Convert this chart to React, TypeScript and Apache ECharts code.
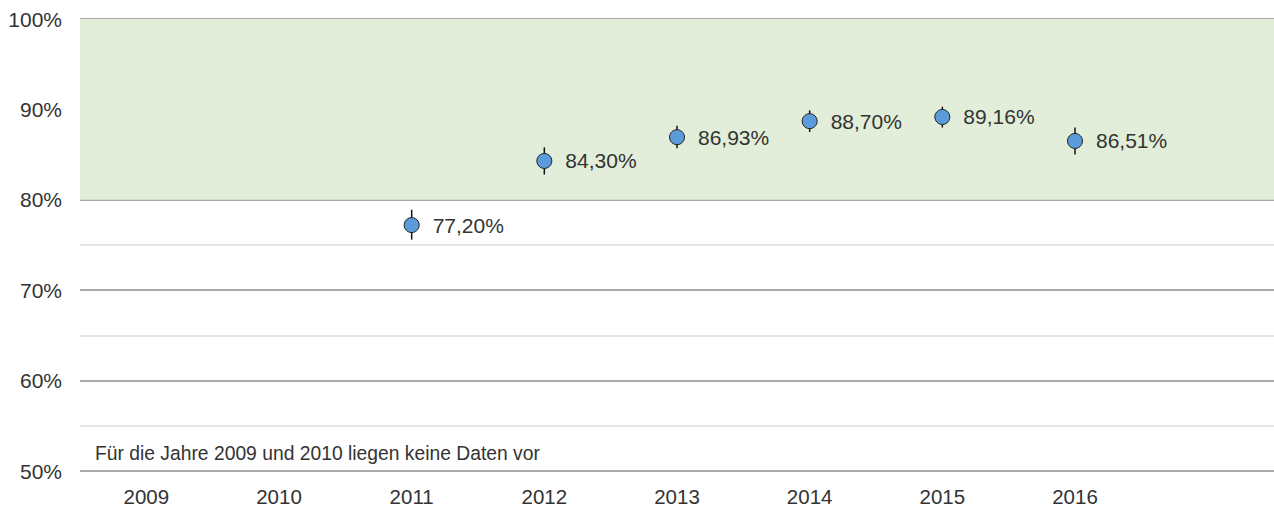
import React, { useEffect, useRef } from "react";
import * as echarts from "echarts";

const categories = ["2009", "2010", "2011", "2012", "2013", "2014", "2015", "2016", ""];
const values: (number | null)[] = [null, null, 77.2, 84.3, 86.93, 88.7, 89.16, 86.51, null];
const lowValues: (number | null)[] = [null, null, 75.6, 82.8, 85.7, 87.5, 88.0, 85.0, null];
const highValues: (number | null)[] = [null, null, 78.9, 85.8, 88.2, 89.9, 90.3, 88.0, null];
const bandRange = [80, 100];
const yMin = 50;
const yMax = 100;
const noteText = "Für die Jahre 2009 und 2010 liegen keine Daten vor";

const FONT = "'Liberation Sans', Arial, sans-serif";

export default function App() {
  const ref = useRef<HTMLDivElement>(null);
  useEffect(() => {
    if (!ref.current) return;
    const chart = echarts.init(ref.current, undefined, { renderer: "svg" });
    const errData = values
      .map((v, i) => (v == null ? null : [i, lowValues[i], highValues[i]]))
      .filter((d) => d != null);
    chart.setOption({
      animation: false,
      textStyle: { fontFamily: FONT },
      grid: { left: 80, right: 0, top: 19, bottom: 40 },
      xAxis: {
        type: "category",
        data: categories,
        boundaryGap: true,
        axisLine: { show: false },
        axisTick: { show: false },
        axisLabel: { color: "#333", fontSize: 20.5, margin: 15, fontFamily: FONT },
        splitLine: { show: false },
      },
      yAxis: {
        type: "value",
        min: yMin,
        max: yMax,
        interval: 10,
        axisLine: { show: false },
        axisTick: { show: false },
        axisLabel: {
          color: "#333",
          fontSize: 21,
          margin: 18,
          fontFamily: FONT,
          formatter: (v: number) => v + "%",
        },
        splitLine: { show: true, lineStyle: { color: "#8e8e8e", width: 1.5 } },
        minorTick: { show: false, splitNumber: 2 },
        minorSplitLine: { show: true, lineStyle: { color: "#dcdcdc", width: 1.5 } },
      },
      graphic: [
        {
          type: "text",
          left: 95,
          top: 444,
          style: { text: noteText, fill: "#333", fontSize: 19.3, fontFamily: FONT },
        },
      ],
      series: [
        {
          type: "custom",
          z: 3,
          renderItem: (params: any, api: any) => {
            const x = api.value(0);
            const p1 = api.coord([x, api.value(1)]);
            const p2 = api.coord([x, api.value(2)]);
            return {
              type: "line",
              shape: { x1: p1[0], y1: p1[1], x2: p2[0], y2: p2[1] },
              style: { stroke: "#111", lineWidth: 1.5 },
            };
          },
          data: errData,
          encode: { x: 0, y: [1, 2] },
          markArea: {
            silent: true,
            itemStyle: { color: "#e2eed9" },
            data: [[{ yAxis: bandRange[0] }, { yAxis: bandRange[1] }]],
          },
        },
        {
          type: "scatter",
          z: 5,
          data: values.map((v) => (v == null ? "-" : v)),
          symbol: "circle",
          symbolSize: 15,
          itemStyle: { color: "#5b9bd9", borderColor: "#222", borderWidth: 1, opacity: 1 },
          label: {
            show: true,
            position: "right",
            distance: 13,
            color: "#333",
            fontSize: 21,
            fontFamily: FONT,
            formatter: (p: any) => p.value.toFixed(2).replace(".", ",") + "%",
          },
        },
      ],
    });
    return () => chart.dispose();
  }, []);
  return (
    <div
      ref={ref}
      style={{ position: "fixed", left: 0, top: 0, width: 1274, height: 511, background: "#fff" }}
    />
  );
}
